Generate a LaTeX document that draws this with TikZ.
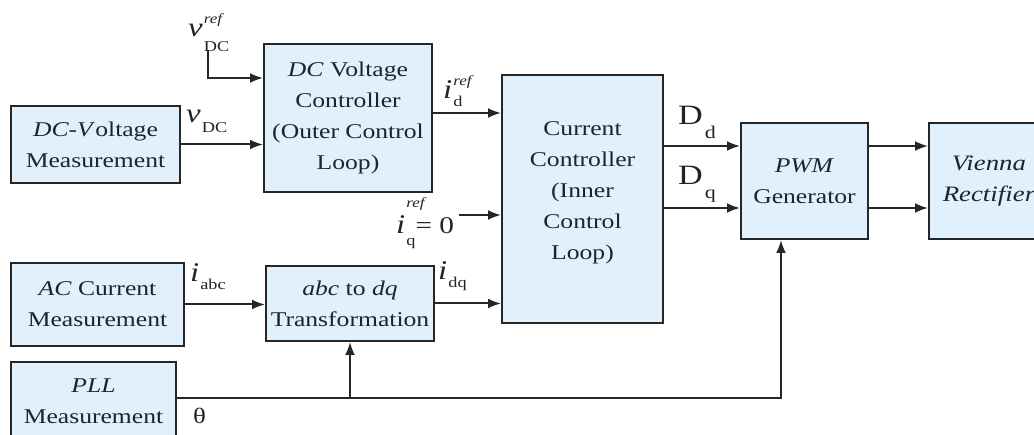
\documentclass[tikz,border=0pt]{standalone}
\usepackage{fontspec}
\setmainfont{Liberation Serif}[FakeStretch=1.22]
\usetikzlibrary{arrows.meta}
\definecolor{boxfill}{HTML}{E0F0FC}
\definecolor{lncol}{HTML}{262626}
\definecolor{txcol}{HTML}{1E2330}
% subscript drop, base letter, superscript, subscript
\newcommand\sgl[4]{{\fontsize{27}{27}\selectfont\textit{#2}}\kern1pt\rlap{\raisebox{13pt}{\fontsize{14}{14}\selectfont\textit{#3}}}\raisebox{-#1}{\fontsize{15}{15}\selectfont #4}}
\newcommand\dsig[1]{{\fontsize{28}{28}\selectfont D}\kern2pt\raisebox{-14pt}{\fontsize{18}{18}\selectfont #1}}
\begin{document}
\begin{tikzpicture}[x=1pt,y=-1pt,
  blk/.style={draw=lncol,fill=boxfill,line width=2pt,inner sep=0pt,align=center,text=txcol,
    font=\fontsize{21}{31}\selectfont},
  btxt/.style={inner sep=0pt,align=center,text=txcol,font=\fontsize{21}{31}\selectfont},
  arr/.style={draw=lncol,line width=2pt,-{Latex[length=13pt,width=10pt]}},
  lab/.style={inner sep=0pt,text=txcol,anchor=base west}]
\useasboundingbox (0,0) rectangle (1034,435);
\clip (0,0) rectangle (1034,435);
% blocks
\node[blk,minimum width=169pt,minimum height=77pt] (dcv) at (95.5,144.5) {\textit{DC-V}oltage\\Measurement};
\node[blk,minimum width=168pt,minimum height=148pt] (dcc) at (348,118) {\textit{DC} Voltage\\Controller\\(Outer Control\\Loop)};
\node[blk,minimum width=161pt,minimum height=248pt] (cc) at (582.5,199) {};
\node[btxt] (cctext) at (582.5,193) {Current\\Controller\\(Inner\\Control\\Loop)};
\node[blk,minimum width=127pt,minimum height=116pt] (pwm) at (804.5,181) {\textit{PWM}\\Generator};
\node[blk,minimum width=120pt,minimum height=116pt,font=\fontsize{22}{31}\selectfont] (vr) at (989,181) {\textit{Vienna}\\\textit{Rectifier}};
\node[blk,minimum width=173pt,minimum height=83pt] (ac) at (97.5,304.5) {\textit{AC} Current\\Measurement};
\node[blk,minimum width=168pt,minimum height=75pt] (abc) at (350,303.5) {\textit{abc} to \textit{dq}\\Transformation};
\node[blk,minimum width=165pt,minimum height=78pt] (pll) at (93.5,401) {\textit{PLL}\\Measurement};
% labels
\node[lab] (vref) at (188,37) {\sgl{15pt}{v}{ref}{DC}};
\node[lab] (vdc) at (186,123) {\sgl{10pt}{v}{}{DC}};
\node[lab] (idref) at (443,99) {\sgl{8pt}{i}{ref}{d}};
\node[lab] (iqref) at (396,234) {{\fontsize{27}{27}\selectfont\textit{i}}\kern1pt\rlap{\raisebox{26pt}{\fontsize{14}{14}\selectfont\textit{ref}}}\raisebox{-12pt}{\fontsize{15}{15}\selectfont q}{\fontsize{24}{24}\selectfont = 0}};
\node[lab] (idq) at (438,280) {\sgl{8pt}{i}{}{dq}};
\node[lab] (iabc) at (190,282) {\sgl{8pt}{i}{}{abc}};
\node[lab] (dd) at (678,125) {\dsig{d}};
\node[lab] (dq) at (678,185) {\dsig{q}};
\node[lab,font=\fontsize{22}{22}\selectfont] (th) at (193,424) {θ};
% connectors
\coordinate (vs) at (208,50);
\draw[arr] (vs) |- ([yshift=40pt]dcc.west);
\draw[arr] (dcv.east) -- (dcv.east -| dcc.west);
\draw[arr] ([yshift=5pt]dcc.east) -- ([yshift=5pt]dcc.east -| cc.west);
\coordinate (iqs) at (459,215);
\draw[arr] (iqs) -- (iqs -| cc.west);
\draw[arr] (ac.east) -- (ac.east -| abc.west);
\draw[arr] (abc.east) -- (abc.east -| cc.west);
\draw[arr] ([yshift=53pt]cc.east) -- ([yshift=53pt]cc.east -| pwm.west);
\draw[arr] ([yshift=-9pt]cc.east) -- ([yshift=-9pt]cc.east -| pwm.west);
\draw[arr] ([yshift=35pt]pwm.east) -- ([yshift=35pt]pwm.east -| vr.west);
\draw[arr] ([yshift=-27pt]pwm.east) -- ([yshift=-27pt]pwm.east -| vr.west);
\coordinate (ths) at ([yshift=3pt]pll.east);
\draw[arr] (ths) -| ([xshift=41pt]pwm.south west);
\draw[arr] (ths -| abc.south) -- (abc.south);
\end{tikzpicture}
\end{document}
